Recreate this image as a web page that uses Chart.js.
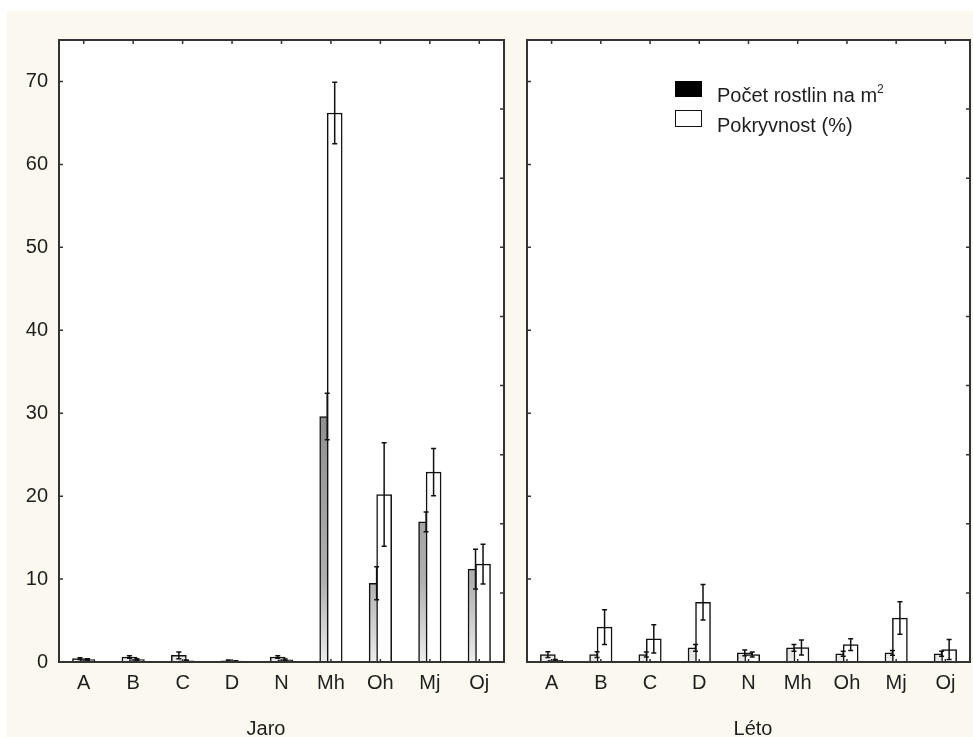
<!DOCTYPE html>
<html lang="cs">
<head>
<meta charset="utf-8">
<title>Počet rostlin a pokryvnost – jaro a léto</title>
<script src="https://cdn.jsdelivr.net/npm/chart.js@4/dist/chart.umd.min.js"></script>
<style>
  body { margin: 0; background: #fff; font-family: "Liberation Sans", Arial, sans-serif; color: #1e1e1e; }
  #pozadi { position: absolute; left: 7px; top: 11px; width: 966px; height: 726px; background: #fbf8ef; }
  canvas { position: absolute; top: 0; }
  #grafJaro { left: 0; }
  #grafLeto { left: 515px; }
  .nazev { position: absolute; top: 718px; font-size: 20px; line-height: 20px; transform: translateX(-50%); }
  .znacka { position: absolute; left: 675px; width: 27px; height: 16px; box-sizing: border-box; }
  .popis { position: absolute; left: 717px; font-size: 20px; line-height: 20px; white-space: nowrap; }
</style>
</head>
<body>
<div id="pozadi"></div>
<canvas id="grafJaro" width="510" height="737"></canvas>
<canvas id="grafLeto" width="458" height="737"></canvas>

<div class="nazev" style="left:266px">Jaro</div>
<div class="nazev" style="left:753px">Léto</div>

<!-- legenda -->
<div class="znacka" style="top:81px; background:#000"></div>
<div class="popis" style="top:85px">Počet rostlin na m<span style="font-size:12px; position:relative; top:-9px">2</span></div>
<div class="znacka" style="top:110px; height:17px; background:#fff; border:1.5px solid #111"></div>
<div class="popis" style="top:115px">Pokryvnost (%)</div>

<script>
// lokality
const kategorie = ["A", "B", "C", "D", "N", "Mh", "Oh", "Mj", "Oj"];

// jaro: průměr a chyba
const jaroPocet    = [0.4, 0.6, 0.8, 0.15, 0.6, 29.6, 9.5, 16.9, 11.2];
const jaroPocetSE  = [0.1, 0.15, 0.4, 0.1, 0.15, 2.8, 2.0, 1.2, 2.4];
const jaroPokryv   = [0.3, 0.3, 0.15, 0.1, 0.25, 66.2, 20.2, 22.9, 11.8];
const jaroPokryvSE = [0.1, 0.1, 0.1, 0.05, 0.1, 3.7, 6.25, 2.85, 2.4];

// léto: průměr a chyba
const letoPocet    = [0.9, 0.9, 0.9, 1.7, 1.1, 1.7, 1.0, 1.1, 1.0];
const letoPocetSE  = [0.35, 0.35, 0.3, 0.4, 0.35, 0.4, 0.3, 0.3, 0.3];
const letoPokryv   = [0.2, 4.2, 2.8, 7.2, 0.9, 1.75, 2.1, 5.3, 1.5];
const letoPokryvSE = [0.1, 2.1, 1.7, 2.15, 0.3, 0.9, 0.7, 1.95, 1.2];

// hodnoty na osách
const osaY  = [0, 10, 20, 30, 40, 50, 60, 70];
const osaY2 = [0, 1, 2, 3, 4, 5, 6, 7, 8, 9];

const POSUN = 0.076;   // překrytí sloupců v rámci kategorie
const PISMO = { family: "'Liberation Sans', Arial, sans-serif", size: 20 };

// šedý přechod přes celou výšku grafu
function sedyPrechod(ctx) {
  const a = ctx.chart.chartArea;
  if (!a) return '#bbb';
  const g = ctx.chart.ctx.createLinearGradient(0, a.top, 0, a.bottom);
  g.addColorStop(0, '#707070');
  g.addColorStop(0.6, '#909090');
  g.addColorStop(0.87, '#b0b0b0');
  g.addColorStop(1, '#ececec');
  return g;
}

// bílá plocha grafu, rámeček a čárky dovnitř
const ramecek = {
  id: 'ramecek',
  beforeDraw(chart) {
    const { ctx, chartArea: a } = chart;
    ctx.save();
    ctx.fillStyle = '#fff';
    ctx.fillRect(a.left, a.top, a.right - a.left, a.bottom - a.top);
    ctx.restore();
  },
  afterDraw(chart) {
    const { ctx, chartArea: a, scales } = chart;
    ctx.save();
    ctx.strokeStyle = '#333';
    ctx.lineWidth = 1.5;
    ctx.beginPath();
    scales.y.ticks.forEach(t => {
      const py = scales.y.getPixelForValue(t.value);
      ctx.moveTo(a.left, py); ctx.lineTo(a.left + 4, py);
    });
    scales.y2.ticks.forEach(t => {
      const py = scales.y2.getPixelForValue(t.value);
      ctx.moveTo(a.right, py); ctx.lineTo(a.right - 4, py);
    });
    kategorie.forEach((k, i) => {
      const px = scales.x.getPixelForValue(i);
      ctx.moveTo(px, a.top); ctx.lineTo(px, a.top + 4);
      ctx.moveTo(px, a.bottom); ctx.lineTo(px, a.bottom - 3);
    });
    ctx.stroke();
    ctx.lineWidth = 2;
    ctx.strokeRect(a.left, a.top, a.right - a.left, a.bottom - a.top);
    ctx.restore();
  }
};

// chybové úsečky
const chybovky = {
  id: 'chybovky',
  afterDatasetsDraw(chart) {
    const { ctx } = chart;
    const y = chart.scales.y;
    ctx.save();
    ctx.strokeStyle = '#111';
    ctx.lineWidth = 1.5;
    chart.data.datasets.forEach((ds, d) => {
      const meta = chart.getDatasetMeta(d);
      meta.data.forEach((bar, i) => {
        const v = ds.data[i].y, e = ds.chyby[i];
        const y1 = y.getPixelForValue(v + e), y2 = y.getPixelForValue(Math.max(0, v - e));
        ctx.beginPath();
        ctx.moveTo(bar.x, y1); ctx.lineTo(bar.x, y2);
        ctx.moveTo(bar.x - 2.5, y1); ctx.lineTo(bar.x + 2.5, y1);
        ctx.moveTo(bar.x - 2.5, y2); ctx.lineTo(bar.x + 2.5, y2);
        ctx.stroke();
      });
    });
    ctx.restore();
  }
};

function vytvorGraf(id, pocet, pocetSE, pokryv, pokryvSE, sPopisky, padding, sirkaY) {
  return new Chart(document.getElementById(id), {
    type: 'bar',
    data: {
      labels: kategorie,
      datasets: [
        {
          label: 'Počet rostlin na m²',
          data: pocet.map((v, i) => ({ x: i - POSUN, y: v })),
          chyby: pocetSE,
          backgroundColor: sedyPrechod,
          order: 2,
          xAxisID: 'xb'
        },
        {
          label: 'Pokryvnost (%)',
          data: pokryv.map((v, i) => ({ x: i + POSUN, y: v })),
          chyby: pokryvSE,
          backgroundColor: '#fff',
          order: 1,
          xAxisID: 'xb'
        }
      ]
    },
    options: {
      responsive: false,
      animation: false,
      layout: { padding: padding },
      datasets: {
        bar: { grouped: false, barThickness: 15, borderColor: '#111', borderWidth: 1.5 }
      },
      plugins: { legend: { display: false }, tooltip: { enabled: false } },
      scales: {
        x: {
          type: 'category',
          offset: true,
          grid: { display: false, drawTicks: false },
          border: { display: false },
          ticks: { font: PISMO, color: '#1e1e1e', padding: 9, maxRotation: 0 },
          afterFit: s => { s.height = 75; }
        },
        xb: { type: 'linear', min: -0.5, max: 8.5, offset: false, display: false },
        y: {
          min: 0, max: 75,
          grid: { display: false, drawTicks: false },
          border: { display: false },
          afterBuildTicks: s => { s.ticks = osaY.map(v => ({ value: v })); },
          ticks: { display: sPopisky, font: PISMO, color: '#1e1e1e', padding: 11 },
          afterFit: s => { s.width = sirkaY; }
        },
        y2: {
          position: 'right',
          min: 0, max: 9,
          grid: { display: false, drawTicks: false },
          border: { display: false },
          afterBuildTicks: s => { s.ticks = osaY2.map(v => ({ value: v })); },
          ticks: { display: false },
          afterFit: s => { s.width = 0; }
        }
      }
    },
    plugins: [ramecek, chybovky]
  });
}

vytvorGraf('grafJaro', jaroPocet, jaroPocetSE, jaroPokryv, jaroPokryvSE, true,
  { top: 40, right: 6, bottom: 0, left: 0 }, 59);
vytvorGraf('grafLeto', letoPocet, letoPocetSE, letoPokryv, letoPokryvSE, false,
  { top: 40, right: 3, bottom: 0, left: 0 }, 12);
</script>
</body>
</html>
